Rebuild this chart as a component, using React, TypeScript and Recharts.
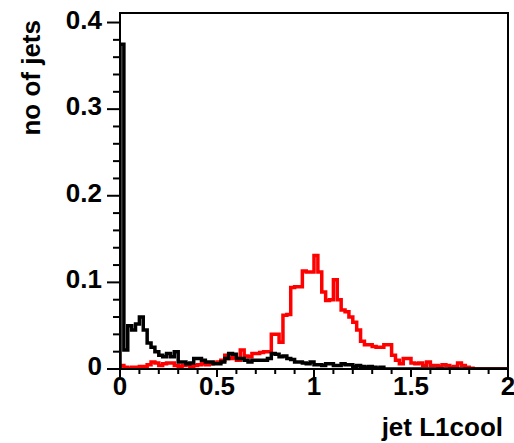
import { ComposedChart, Line, XAxis, YAxis, ReferenceArea } from 'recharts';

// histogram bins: 100 bins of width 0.02 over [0, 2]
const BIN_WIDTH = 0.02;

const blackCounts = [
    0.375, 0.022, 0.050, 0.045, 0.052, 0.060, 0.045, 0.030, 0.025, 0.020,
    0.016, 0.014, 0.018, 0.014, 0.020, 0.008, 0.008, 0.006, 0.007, 0.012,
    0.012, 0.010, 0.008, 0.008, 0.006, 0.006, 0.008, 0.012, 0.018, 0.017,
    0.012, 0.012, 0.010, 0.008, 0.010, 0.010, 0.010, 0.010, 0.012, 0.018,
    0.017, 0.014, 0.015, 0.012, 0.011, 0.008, 0.008, 0.007, 0.006, 0.008,
    0.005, 0.005, 0.004, 0.006, 0.006, 0.004, 0.004, 0.006, 0.005, 0.005,
    0.003, 0.004, 0.003, 0.002, 0.003, 0.002, 0.001, 0.002, 0, 0,
    0, 0, 0, 0, 0, 0, 0, 0, 0, 0,
    0, 0, 0, 0, 0, 0, 0, 0, 0, 0,
    0, 0, 0, 0, 0, 0, 0, 0, 0, 0,
];

const redCounts = [
    0.004, 0.002, 0.001, 0.002, 0.002, 0.003, 0.003, 0.005, 0.008, 0.007,
    0.004, 0.006, 0.007, 0.007, 0.004, 0.003, 0.004, 0.005, 0.003, 0.004,
    0.005, 0.006, 0.005, 0.006, 0.007, 0.008, 0.010, 0.016, 0.012, 0.013,
    0.010, 0.022, 0.015, 0.014, 0.018, 0.018, 0.019, 0.020, 0.020, 0.040,
    0.040, 0.031, 0.062, 0.063, 0.094, 0.095, 0.095, 0.113, 0.112, 0.112,
    0.131, 0.112, 0.089, 0.079, 0.080, 0.103, 0.080, 0.068, 0.066, 0.060,
    0.054, 0.045, 0.032, 0.028, 0.028, 0.026, 0.025, 0.025, 0.028, 0.028,
    0.016, 0.010, 0.006, 0.012, 0.012, 0.007, 0.006, 0.007, 0.004, 0.008,
    0.004, 0.004, 0.003, 0.005, 0.004, 0.002, 0.003, 0.007, 0.004, 0.002,
    0.001, 0, 0, 0, 0, 0, 0, 0, 0, 0,
];

const xTicks = [0, 0.1, 0.2, 0.3, 0.4, 0.5, 0.6, 0.7, 0.8, 0.9, 1, 1.1, 1.2, 1.3, 1.4, 1.5, 1.6, 1.7, 1.8, 1.9, 2];
const xLabels = [0, 0.5, 1, 1.5, 2];
const yTicks = [0, 0.02, 0.04, 0.06, 0.08, 0.1, 0.12, 0.14, 0.16, 0.18, 0.2, 0.22, 0.24, 0.26, 0.28, 0.3, 0.32, 0.34, 0.36, 0.38, 0.4];
const yLabels = [0, 0.1, 0.2, 0.3, 0.4];

const X_MAX = 2;
const Y_MAX = 0.411;
const FONT = '"Liberation Sans", Arial, Helvetica, sans-serif';
const FS = 26;

// points at bin left edges, plus closing point at the right edge
const toSteps = (counts: number[]) => {
    const pts = [{ x: 0, y: 0 }];
    counts.forEach((c, i) => pts.push({ x: +(i * BIN_WIDTH).toFixed(2), y: c }));
    pts.push({ x: X_MAX, y: counts[counts.length - 1] });
    return pts;
};

const blackData = toSteps(blackCounts);
const redData = toSteps(redCounts);

const isLabel = (v: number, list: number[]) => list.some((l) => Math.abs(l - v) < 1e-6);

const XTick = ({ x, y, payload }: any) => {
    const major = isLabel(payload.value, xLabels);
    return (
        <g>
            <line x1={x} y1={y} x2={x} y2={y + (major ? 8 : 5)} stroke="#000" strokeWidth={2} />
            {major && (
                <text x={x} y={y + 26} textAnchor="middle" fontFamily={FONT} fontWeight="bold" fontSize={FS} fill="#000">
                    {String(payload.value)}
                </text>
            )}
        </g>
    );
};

const YTick = ({ x, y, payload }: any) => {
    const major = isLabel(payload.value, yLabels);
    return (
        <g>
            <line x1={x - (major ? 13 : 7)} y1={y} x2={x} y2={y} stroke="#000" strokeWidth={2} />
            {major && (
                <text x={x - 18} y={y + 6} textAnchor="end" fontFamily={FONT} fontWeight="bold" fontSize={FS} fill="#000">
                    {String(payload.value)}
                </text>
            )}
        </g>
    );
};

export default function App() {
    return (
        <div style={{ position: 'absolute', left: 0, top: 0, width: 514, height: 443, background: '#fff' }}>
            <ComposedChart width={514} height={443} margin={{ top: 13, right: 6, bottom: 0, left: 0 }}>
                <XAxis
                    type="number"
                    dataKey="x"
                    domain={[0, X_MAX]}
                    ticks={xTicks}
                    interval={0}
                    tick={<XTick />}
                    tickLine={false}
                    tickSize={0}
                    tickMargin={0}
                    height={74}
                    axisLine={{ stroke: '#000', strokeWidth: 2 }}
                    allowDataOverflow
                />
                <YAxis
                    type="number"
                    dataKey="y"
                    domain={[0, Y_MAX]}
                    ticks={yTicks}
                    interval={0}
                    tick={<YTick />}
                    tickLine={false}
                    tickSize={0}
                    tickMargin={0}
                    width={120}
                    axisLine={{ stroke: '#000', strokeWidth: 2 }}
                    allowDataOverflow
                />
                <ReferenceArea x1={0} x2={X_MAX} y1={0} y2={Y_MAX} fill="none" stroke="#000" strokeWidth={2} />
                <Line
                    data={redData}
                    dataKey="y"
                    type="stepAfter"
                    stroke="#ff0000"
                    strokeWidth={3.5}
                    dot={false}
                    isAnimationActive={false}
                />
                <Line
                    data={blackData}
                    dataKey="y"
                    type="stepAfter"
                    stroke="#000"
                    strokeWidth={3.5}
                    dot={false}
                    isAnimationActive={false}
                />
                <text x={40} y={20} transform="rotate(-90, 40, 20)" textAnchor="end" fontFamily={FONT} fontWeight="bold" fontSize={FS} fill="#000">
                    no of jets
                </text>
                <text x={503} y={436} textAnchor="end" fontFamily={FONT} fontWeight="bold" fontSize={FS} fill="#000">
                    jet L1cool
                </text>
            </ComposedChart>
        </div>
    );
}
